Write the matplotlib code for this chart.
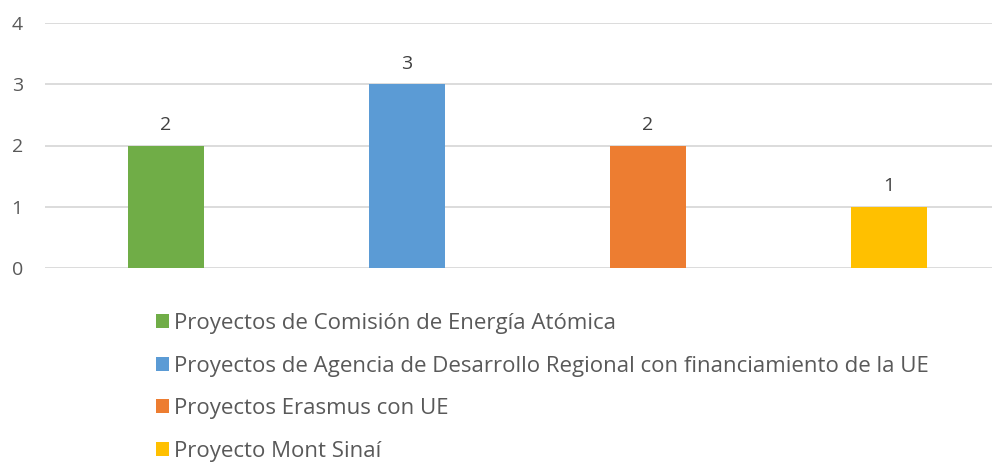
import matplotlib
matplotlib.use("Agg")
from matplotlib import pyplot as plt

# Datos del gráfico
proyectos = ["Proyectos de Comisión de Energía Atómica",
             "Proyectos de Agencia de Desarrollo Regional con financiamiento de la UE",
             "Proyectos Erasmus con UE",
             "Proyecto Mont Sinaí"]
valores = [2, 3, 2, 1]
colores = ["#70ad47", "#5b9bd5", "#ed7d31", "#ffc000"]
y_ticks = [0, 1, 2, 3, 4]

gris = "#595959"
plt.rcParams["font.family"] = ["Open Sans", "DejaVu Sans"]

fig = plt.figure(figsize=(9.92, 4.66), dpi=100)
ax = fig.add_axes([45 / 992, 1 - 268 / 466, 947 / 992, 245 / 466])

barras = []
for i, (nombre, v, c) in enumerate(zip(proyectos, valores, colores)):
    b = ax.bar(i, v, width=0.315, color=c, label=nombre, zorder=2)
    barras.append(b)
    ax.text(i, v + 0.19, str(v), ha="center", va="bottom", fontsize=14, color="#404040")

ax.set_xlim(-0.502, 3.427)
ax.set_ylim(0, 4)
ax.set_yticks(y_ticks)
ax.set_xticks([])
ax.yaxis.grid(True, color="#d9d9d9", linewidth=1.3, zorder=0)
ax.tick_params(axis="y", length=0, labelsize=14, labelcolor=gris, pad=16)
for s in ax.spines.values():
    s.set_visible(False)
ax.set_axisbelow(True)

fig.legend(handles=[b[0] for b in barras], labels=proyectos,
           loc="upper left", bbox_to_anchor=(156 / 992, 1 - 313 / 466),
           frameon=False, fontsize=16, labelcolor=gris,
           handlelength=0.58, handleheight=0.58, handletextpad=0.25,
           labelspacing=0.97, borderpad=0, borderaxespad=0)

fig.savefig("out.png", dpi=100)
